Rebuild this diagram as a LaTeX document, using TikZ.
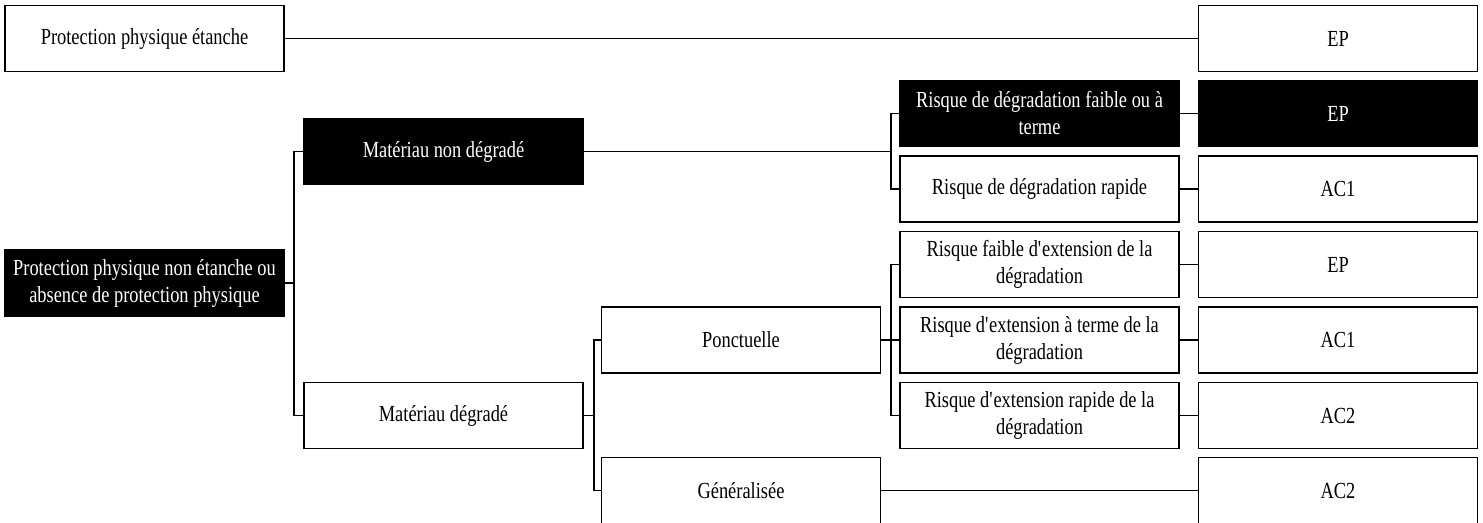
\documentclass[tikz,border=0pt]{standalone}
\usepackage{fontspec}
\setmainfont{Liberation Serif}[FakeStretch=0.8]
\begin{document}
\begin{tikzpicture}[x=1pt,y=-1pt,
  box/.style={draw=black,line width=1.4pt,fill=white,minimum width=279pt,minimum height=66pt,inner sep=0pt,align=center,font=\fontsize{23}{27}\selectfont},
  dark/.style={box,fill=black,text=white},
  link/.style={line width=1.4pt}]
\useasboundingbox (0,0) rectangle (1483,522);
% column 1
\node[box]  (A)  at (144.5,38.5) {Protection physique étanche};
\node[dark] (B)  at (144.5,283)  {Protection physique non étanche ou\\absence de protection physique};
% column 2
\node[dark] (M1) at (443.5,151.5) {Matériau non dégradé};
\node[box]  (M2) at (443.5,415.5) {Matériau dégradé};
% column 3
\node[box]  (P)  at (741,340)   {Ponctuelle};
\node[box]  (G)  at (741,490.5) {Généralisée};
% column 4
\node[dark] (R1) at (1039.5,113.5) {Risque de dégradation faible ou à\\terme};
\node[box]  (R2) at (1039.5,189)   {Risque de dégradation rapide};
\node[box]  (R3) at (1039.5,264.5) {Risque faible d\textquotesingle extension de la\\dégradation};
\node[box]  (R4) at (1039.5,340)   {Risque d\textquotesingle extension à terme de la\\dégradation};
\node[box]  (R5) at (1039.5,415.5) {Risque d\textquotesingle extension rapide de la\\dégradation};
% column 5
\node[box]  (E0) at (1338,38.5)  {EP};
\node[dark] (E1) at (1338,113.5) {EP};
\node[box]  (E2) at (1338,189)   {AC1};
\node[box]  (E3) at (1338,264.5) {EP};
\node[box]  (E4) at (1338,340)   {AC1};
\node[box]  (E5) at (1338,415.5) {AC2};
\node[box]  (E6) at (1338,490.5) {AC2};
% junctions
\coordinate (jB) at (294,283);
\coordinate (jM1) at (891,151.5);
\coordinate (jM2) at (594,415.5);
\coordinate (jP) at (891,340);
% connectors
\draw[link] (A.east) -- (E0.west);
\draw[link] (B.east) -- (jB);
\draw[link] (jB) |- (M1.west);
\draw[link] (jB) |- (M2.west);
\draw[link] (M1.east) -- (jM1);
\draw[link] (jM1) |- (R1.west);
\draw[link] (jM1) |- (R2.west);
\draw[link] (M2.east) -- (jM2);
\draw[link] (jM2) |- (P.west);
\draw[link] (jM2) |- (G.west);
\draw[link] (P.east) -- (jP);
\draw[link] (jP) |- (R3.west);
\draw[link] (jP) |- (R4.west);
\draw[link] (jP) |- (R5.west);
\draw[link] (R1.east) -- (E1.west);
\draw[link] (R2.east) -- (E2.west);
\draw[link] (R3.east) -- (E3.west);
\draw[link] (R4.east) -- (E4.west);
\draw[link] (R5.east) -- (E5.west);
\draw[link] (G.east) -- (E6.west);
\end{tikzpicture}
\end{document}
